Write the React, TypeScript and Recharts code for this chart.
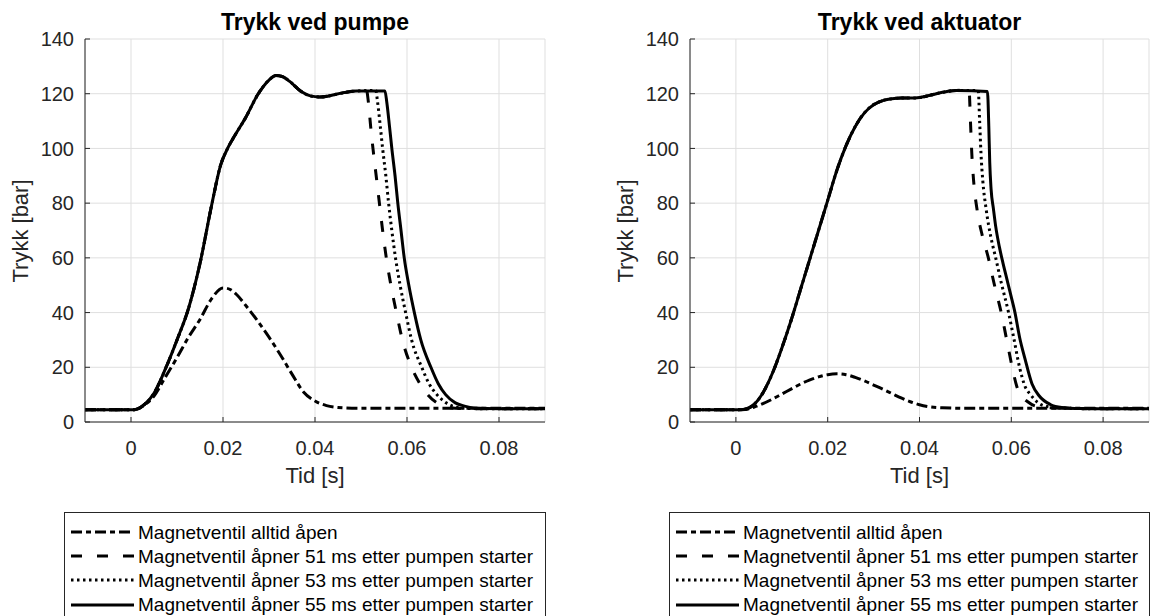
import React from 'react';
import { LineChart, Line, XAxis, YAxis, CartesianGrid } from 'recharts';

// ---------- ticks & labels ----------
const xTicks = [0, 0.02, 0.04, 0.06, 0.08];
const yTicks = [0, 20, 40, 60, 80, 100, 120, 140];
const titles = ['Trykk ved pumpe', 'Trykk ved aktuator'];
const xLabel = 'Tid [s]';
const yLabel = 'Trykk [bar]';
const seriesNames = [
  'Magnetventil alltid åpen',
  'Magnetventil åpner 51 ms etter pumpen starter',
  'Magnetventil åpner 53 ms etter pumpen starter',
  'Magnetventil åpner 55 ms etter pumpen starter',
];

// ---------- pump (left) ----------
const pumpOpenT = [-0.01, 0, 0.001, 0.003, 0.005, 0.0075, 0.01, 0.0125, 0.015, 0.0175, 0.02, 0.0215, 0.023, 0.025, 0.0275, 0.03, 0.0325, 0.035, 0.0375, 0.04, 0.0425, 0.045, 0.05, 0.07, 0.09];
const pumpOpenP = [4.5, 4.5, 4.6, 6.3, 9.5, 16.5, 23.5, 31, 37.5, 45, 49, 48.5, 46.5, 42.5, 37, 31, 24.5, 17.5, 11, 7.7, 6, 5.3, 5, 5, 5];

const pumpRiseT = [-0.01, 0, 0.001, 0.003, 0.005, 0.0075, 0.01, 0.0125, 0.015, 0.0175, 0.0195, 0.021, 0.0225, 0.025, 0.0275, 0.03, 0.0315, 0.033, 0.0345, 0.037, 0.039, 0.041, 0.043, 0.046, 0.049];
const pumpRiseP = [4.5, 4.5, 4.6, 6.5, 10.5, 19.5, 30, 41.5, 58, 79, 94, 100, 104.5, 111.5, 119.5, 125, 126.7, 126.2, 124.5, 120.8, 119.2, 118.8, 119.2, 120.3, 121];

const pump51T = [0.0512, 0.0516, 0.0521, 0.0526, 0.0533, 0.054, 0.0547, 0.0555, 0.0565, 0.0577, 0.059, 0.061, 0.0628, 0.0645, 0.0665, 0.0685, 0.0705, 0.08, 0.09];
const pump51P = [121.2, 117, 108, 100, 90, 80, 70, 60, 50, 40, 30, 20, 14, 10, 7, 5.5, 5, 4.8, 4.8];

const pump53T = [0.0532, 0.0536, 0.0542, 0.0547, 0.0554, 0.056, 0.0567, 0.0575, 0.0585, 0.0597, 0.061, 0.0632, 0.0648, 0.0665, 0.0685, 0.0705, 0.0725, 0.08, 0.09];
const pump53P = [121.2, 117, 108, 100, 90, 80, 70, 60, 50, 40, 30, 20, 14, 10, 7, 5.5, 5, 4.8, 4.8];

const pump55T = [0.0552, 0.0556, 0.0562, 0.0567, 0.0574, 0.058, 0.0587, 0.0594, 0.0604, 0.0616, 0.063, 0.0652, 0.0668, 0.0684, 0.0705, 0.0725, 0.0745, 0.08, 0.09];
const pump55P = [121, 117, 108, 100, 90, 80, 70, 60, 50, 40, 30, 20, 14, 10, 7, 5.8, 5.1, 4.8, 4.8];

// ---------- actuator (right) ----------
const actOpenT = [-0.01, 0, 0.002, 0.004, 0.006, 0.008, 0.01, 0.012, 0.014, 0.016, 0.018, 0.02, 0.022, 0.024, 0.026, 0.028, 0.03, 0.032, 0.034, 0.036, 0.038, 0.04, 0.042, 0.045, 0.05, 0.07, 0.09];
const actOpenP = [4.5, 4.5, 4.6, 5.5, 6.8, 8.4, 10.2, 12, 13.8, 15.3, 16.5, 17.3, 17.6, 17.3, 16.3, 15, 13.5, 12, 10.4, 8.8, 7.4, 6.3, 5.6, 5.2, 5, 5, 5];

const actRiseT = [-0.01, 0, 0.002, 0.004, 0.006, 0.008, 0.01, 0.012, 0.014, 0.016, 0.018, 0.02, 0.022, 0.024, 0.026, 0.028, 0.03, 0.032, 0.034, 0.036, 0.038, 0.04, 0.042, 0.045, 0.048];
const actRiseP = [4.5, 4.5, 4.7, 6.5, 11, 18, 27, 37, 48, 59, 70, 81, 92, 101, 108, 113, 116, 117.5, 118.2, 118.4, 118.4, 118.6, 119.3, 120.5, 121.2];

const act51T = [0.0508, 0.0511, 0.0514, 0.0518, 0.0526, 0.0537, 0.055, 0.0562, 0.0578, 0.059, 0.0602, 0.0612, 0.0622, 0.0635, 0.065, 0.068, 0.075, 0.09];
const act51P = [121.3, 110, 98, 88, 77, 68, 60, 51, 40, 30, 20, 13, 9.5, 7.5, 6, 5.2, 4.9, 4.8];

const act53T = [0.0528, 0.0531, 0.0534, 0.0538, 0.0545, 0.0555, 0.0566, 0.0578, 0.0594, 0.0605, 0.0618, 0.063, 0.0642, 0.0655, 0.067, 0.07, 0.08, 0.09];
const act53P = [121.2, 110, 98, 88, 78, 68, 60, 51, 40, 31, 20, 13, 10, 7.5, 6, 5.2, 4.8, 4.8];

const act55T = [0.0548, 0.0551, 0.0553, 0.0556, 0.0561, 0.0566, 0.0574, 0.0582, 0.059, 0.0598, 0.0608, 0.0618, 0.063, 0.0645, 0.0661, 0.0685, 0.071, 0.075, 0.08, 0.09];
const act55P = [120.8, 108, 95, 85, 78, 71.5, 64, 58, 52.5, 47, 40, 31, 23, 14, 9.5, 6.4, 5.3, 4.9, 4.8, 4.8];

// ---------- helpers ----------
type Pt = { t: number; p: number };
const zip = (t: number[], p: number[]): Pt[] => t.map((v, i) => ({ t: v, p: p[i] }));
const join = (a: Pt[], b: Pt[]): Pt[] => [...a, ...b];

const dashes = ['11 4 5 4', '11 15', '2.5 3.5', undefined];

const pumpSeries: Pt[][] = [
  zip(pumpOpenT, pumpOpenP),
  join(zip(pumpRiseT, pumpRiseP), zip(pump51T, pump51P)),
  join(zip(pumpRiseT, pumpRiseP), zip(pump53T, pump53P)),
  join(zip(pumpRiseT, pumpRiseP), zip(pump55T, pump55P)),
];
const actSeries: Pt[][] = [
  zip(actOpenT, actOpenP),
  join(zip(actRiseT, actRiseP), zip(act51T, act51P)),
  join(zip(actRiseT, actRiseP), zip(act53T, act53P)),
  join(zip(actRiseT, actRiseP), zip(act55T, act55P)),
];

const FONT = '"Liberation Sans", Arial, Helvetica, sans-serif';
const AX = '#262626';
const GRID = '#dfdfdf';

type PanelProps = {
  left: number;
  plotLeft: number;
  plotRight: number;
  title: string;
  series: Pt[][];
  legendLeft: number;
  legendWidth: number;
};

const Panel = ({ left, plotLeft, plotRight, title, series, legendLeft, legendWidth }: PanelProps) => {
  const W = 575;
  const top = 39;
  const bottom = 422;
  const H = 470;
  const cx = (plotLeft + plotRight) / 2;
  return (
    <div style={{ position: 'absolute', left, top: 0, width: W, height: 616 }}>
      <LineChart
        width={W}
        height={H}
        margin={{ top, right: W - plotRight, bottom: 0, left: 0 }}
        style={{ position: 'absolute', left: 0, top: 0 }}
      >
        <CartesianGrid stroke={GRID} strokeWidth={1} />
        <XAxis
          dataKey="t"
          type="number"
          domain={[-0.01, 0.09]}
          ticks={xTicks}
          allowDataOverflow
          height={H - bottom}
          interval={0}
          tickFormatter={(v: number) => String(v)}
          tick={{ fill: AX, fontSize: 20, fontFamily: FONT }}
          tickSize={-5}
          tickMargin={24}
          stroke={AX}
          axisLine={{ stroke: AX, strokeWidth: 1 }}
          tickLine={{ stroke: AX }}
        />
        <XAxis
          xAxisId="top"
          orientation="top"
          dataKey="t"
          type="number"
          domain={[-0.01, 0.09]}
          ticks={xTicks}
          allowDataOverflow
          height={0}
          tick={false}
          tickSize={-5}
          axisLine={{ stroke: AX, strokeWidth: 1 }}
          tickLine={{ stroke: AX }}
        />
        <YAxis
          type="number"
          domain={[0, 140]}
          ticks={yTicks}
          allowDataOverflow
          width={plotLeft}
          interval={0}
          tick={{ fill: AX, fontSize: 20, fontFamily: FONT }}
          tickSize={-5}
          tickMargin={16}
          axisLine={{ stroke: AX, strokeWidth: 1 }}
          tickLine={{ stroke: AX }}
        />
        <YAxis
          yAxisId="right"
          orientation="right"
          type="number"
          domain={[0, 140]}
          ticks={yTicks}
          allowDataOverflow
          width={0}
          tick={false}
          tickSize={-5}
          axisLine={{ stroke: AX, strokeWidth: 1 }}
          tickLine={{ stroke: AX }}
        />
        {series.map((d, i) => (
          <Line
            key={i}
            data={d}
            dataKey="p"
            type="monotone"
            stroke="#000"
            strokeWidth={3}
            strokeDasharray={dashes[i]}
            dot={false}
            activeDot={false}
            isAnimationActive={false}
          />
        ))}
      </LineChart>
      <div
        style={{
          position: 'absolute',
          left: cx,
          top: 22,
          transform: 'translate(-50%, -50%)',
          fontFamily: FONT,
          fontWeight: 'bold',
          fontSize: 23,
          lineHeight: 1,
          whiteSpace: 'nowrap',
          color: '#000',
        }}
      >
        {title}
      </div>
      <div
        style={{
          position: 'absolute',
          left: cx,
          top: 476,
          transform: 'translate(-50%, -50%)',
          fontFamily: FONT,
          fontSize: 22,
          lineHeight: 1,
          whiteSpace: 'nowrap',
          color: AX,
        }}
      >
        {xLabel}
      </div>
      <div
        style={{
          position: 'absolute',
          left: plotLeft - 64,
          top: (top + bottom) / 2,
          transform: 'translate(-50%, -50%) rotate(-90deg)',
          fontFamily: FONT,
          fontSize: 22,
          lineHeight: 1,
          whiteSpace: 'nowrap',
          color: AX,
        }}
      >
        {yLabel}
      </div>
      <div
        style={{
          position: 'absolute',
          left: legendLeft,
          top: 512,
          width: legendWidth,
          height: 110,
          border: `1px solid ${AX}`,
          background: '#fff',
          boxSizing: 'border-box',
          fontFamily: FONT,
          fontSize: 19,
          color: '#000',
        }}
      >
        {seriesNames.map((name, i) => (
          <div
            key={i}
            style={{
              position: 'absolute',
              left: 0,
              top: 7 + i * 24.2,
              height: 24,
              display: 'flex',
              alignItems: 'center',
              whiteSpace: 'nowrap',
            }}
          >
            <svg width={73} height={24} style={{ display: 'block' }}>
              <line x1={6} x2={69} y1={12} y2={12} stroke="#000" strokeWidth={3} strokeDasharray={dashes[i]} />
            </svg>
            <span style={{ lineHeight: 1 }}>{name}</span>
          </div>
        ))}
      </div>
    </div>
  );
};

export default function App() {
  return (
    <div style={{ position: 'absolute', left: 0, top: 0, width: 1150, height: 616, background: '#fff', overflow: 'hidden' }}>
      <Panel left={0} plotLeft={85} plotRight={545} title={titles[0]} series={pumpSeries} legendLeft={64} legendWidth={482} />
      <Panel left={575} plotLeft={115} plotRight={574} title={titles[1]} series={actSeries} legendLeft={94} legendWidth={481} />
    </div>
  );
}
